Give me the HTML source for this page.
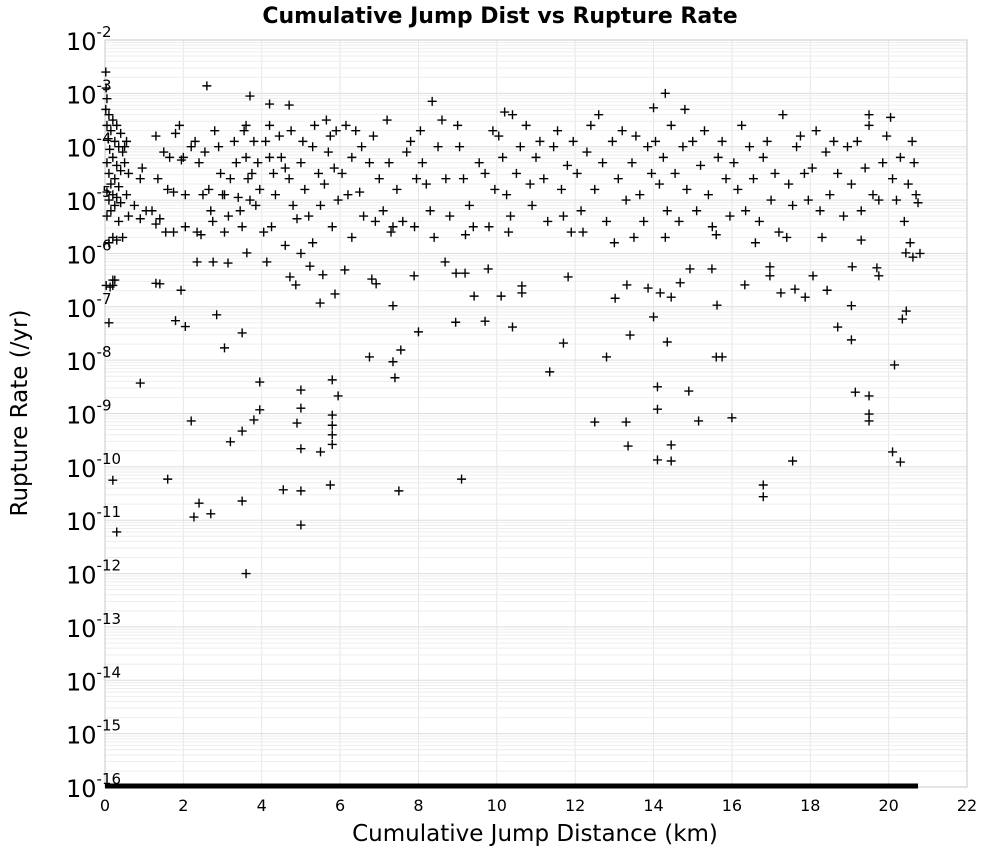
<!DOCTYPE html>
<html><head><meta charset="utf-8"><style>
html,body{margin:0;padding:0;background:#fff;}
svg{display:block;font-family:"DejaVu Sans","Liberation Sans",sans-serif;}
</style></head><body>
<svg id="chart" width="1000" height="850" xmlns="http://www.w3.org/2000/svg">
<text x="500" y="23" text-anchor="middle" font-size="22" font-weight="bold">Cumulative Jump Dist vs Rupture Rate</text>
<g id="grid"></g>
<rect x="105" y="40" width="862" height="747" fill="none" stroke="#c8c8c8"/>
<g id="xticks"></g>
<g id="yticks"></g>
<g id="marks"></g>
<text x="535" y="841" text-anchor="middle" font-size="23">Cumulative Jump Distance (km)</text>
<text transform="translate(27,413) rotate(-90)" text-anchor="middle" font-size="23">Rupture Rate (/yr)</text>
</svg>
<script>
const xTicks = [0,2,4,6,8,10,12,14,16,18,20,22];
const yTickExponents = [-2,-3,-4,-5,-6,-7,-8,-9,-10,-11,-12,-13,-14,-15,-16];
const zeroRateRange = [0, 20.75];
// [cumulative jump distance km, log10 rupture rate]
const ruptures = [
[0.02,-2.6],[0.03,-2.9],[0.05,-3.1],[0.02,-3.3],[0.1,-3.4],[0.2,-3.5],[0.05,-3.6],[0.3,-3.6],[0.15,-3.7],[0.4,-3.75],[0.08,-3.85],[0.25,-3.9],[0.35,-4.0],[0.12,-4.05],[0.45,-4.1],[0.2,-4.2],[0.05,-4.3],[0.3,-4.35],[0.4,-4.45],[0.1,-4.5],[0.25,-4.6],[0.15,-4.7],[0.35,-4.75],[0.05,-4.85],[0.2,-4.9],[0.3,-4.95],[0.1,-5.0],[0.4,-5.05],[0.25,-5.1],[0.15,-5.2],[0.05,-5.3],[0.35,-5.4],[0.2,-5.7],[0.3,-5.75],[0.45,-5.7],[0.1,-5.8],[0.03,-6.6],[0.2,-6.6],[0.25,-6.5],[0.5,-4.0],[0.5,-4.3],[0.55,-3.9],[0.6,-4.5],[0.55,-4.9],[0.6,-5.3],
[0.75,-5.1],[0.9,-5.35],[0.9,-4.6],[0.95,-4.4],[1.05,-5.2],[1.2,-5.2],[1.3,-3.8],[1.35,-4.6],[1.4,-5.35],[1.5,-4.1],[1.6,-4.8],[1.65,-4.2],[1.75,-4.85],[1.8,-3.75],[1.9,-3.6],[1.95,-4.25],[2.0,-4.2],[2.05,-4.9],[2.05,-5.5],[1.75,-5.6],[1.55,-5.6],[1.3,-5.45],
[2.2,-4.0],[2.3,-3.9],[2.4,-4.3],[2.5,-4.9],[2.55,-4.1],[2.65,-4.8],[2.7,-5.2],[2.8,-3.7],[2.9,-4.0],[2.95,-4.5],[3.0,-4.9],[3.05,-4.9],[3.15,-5.3],[3.2,-4.6],[3.3,-3.9],[3.35,-4.3],[3.4,-4.95],[3.45,-5.2],[3.55,-3.7],[3.6,-3.6],[3.6,-4.2],[3.65,-4.6],[3.7,-5.0],[3.75,-4.5],[3.8,-3.9],[3.9,-4.3],[3.95,-4.8],[2.35,-5.6],[2.45,-5.65],[2.75,-5.4],[3.05,-5.6],[3.5,-5.5],[3.85,-5.1],
[4.1,-3.9],[4.2,-3.6],[4.2,-4.2],[4.3,-4.5],[4.35,-4.9],[4.45,-3.8],[4.5,-4.2],[4.6,-4.4],[4.7,-4.6],[4.75,-3.7],[4.8,-5.1],[4.9,-5.35],[5.0,-4.3],[5.05,-3.9],[5.1,-4.8],[5.2,-5.3],[5.3,-4.0],[5.35,-3.6],[5.45,-4.5],[5.5,-5.1],[5.6,-4.7],[5.7,-4.1],[5.75,-3.8],[5.85,-4.4],[5.9,-3.7],[5.95,-5.0],[4.05,-5.6],[4.25,-5.5],[4.6,-5.85],[5.3,-5.8],[5.8,-5.5],[5.0,-6.0],
[6.05,-4.5],[6.15,-3.6],[6.2,-4.9],[6.3,-4.2],[6.4,-3.7],[6.5,-4.85],[6.55,-4.0],[6.6,-5.3],[6.75,-4.3],[6.85,-3.8],[6.9,-5.4],[7.0,-4.6],[7.1,-5.2],[7.2,-3.5],[7.25,-4.3],[7.35,-5.5],[7.45,-4.8],[7.6,-5.4],[7.7,-4.1],[7.8,-3.9],[7.9,-5.5],[7.95,-4.6],[6.3,-5.7],[7.3,-5.6],
[8.05,-3.7],[8.1,-4.3],[8.2,-4.7],[8.3,-5.2],[8.5,-4.0],[8.6,-3.5],[8.7,-4.6],[8.8,-5.3],[9.0,-3.6],[9.05,-4.0],[9.15,-4.6],[9.3,-5.1],[9.4,-5.5],[9.55,-4.3],[9.7,-4.5],[9.8,-5.5],[9.9,-3.7],[9.95,-4.8],[8.4,-5.7],[9.2,-5.65],
[10.05,-3.8],[10.15,-4.2],[10.25,-4.9],[10.35,-5.3],[10.4,-3.4],[10.5,-4.5],[10.6,-4.0],[10.75,-3.6],[10.85,-4.7],[10.9,-5.1],[11.0,-4.2],[11.1,-3.9],[11.2,-4.6],[11.3,-5.4],[11.45,-4.0],[11.55,-3.7],[11.65,-4.8],[11.7,-5.3],[11.8,-4.35],[11.95,-3.9],[10.3,-5.6],[11.9,-5.6],
[12.05,-4.5],[12.15,-5.2],[12.3,-4.1],[12.4,-3.6],[12.5,-4.8],[12.6,-3.4],[12.7,-4.3],[12.8,-5.4],[12.95,-3.9],[13.1,-4.6],[13.2,-3.7],[13.3,-5.0],[13.45,-4.3],[13.55,-3.8],[13.65,-4.9],[13.75,-5.4],[13.85,-4.0],[13.95,-4.5],[12.2,-5.6],[13.0,-5.8],[13.5,-5.7],
[14.05,-3.9],[14.15,-4.7],[14.25,-4.2],[14.35,-5.2],[14.45,-3.6],[14.55,-4.5],[14.65,-5.4],[14.75,-4.0],[14.85,-4.8],[15.0,-3.9],[15.1,-5.2],[15.2,-4.35],[15.3,-3.7],[15.4,-4.9],[15.5,-5.5],[15.65,-4.2],[15.75,-3.9],[15.85,-4.6],[15.95,-5.3],[14.3,-5.7],[15.6,-5.65],
[16.05,-4.3],[16.15,-4.8],[16.25,-3.6],[16.35,-5.2],[16.45,-4.0],[16.55,-4.6],[16.7,-5.4],[16.8,-4.2],[16.9,-3.9],[17.0,-5.0],[17.1,-4.5],[17.2,-5.6],[17.3,-3.4],[17.45,-4.7],[17.55,-5.1],[17.65,-4.0],[17.75,-3.8],[17.85,-4.5],[17.95,-5.0],[16.6,-5.8],[17.4,-5.7],
[18.05,-4.4],[18.15,-3.7],[18.25,-5.2],[18.4,-4.1],[18.5,-4.9],[18.6,-3.9],[18.7,-4.5],[18.85,-5.3],[18.95,-4.0],[19.05,-4.7],[19.2,-3.9],[19.3,-5.2],[19.4,-4.4],[19.5,-3.6],[19.6,-4.9],[19.75,-5.0],[19.85,-4.3],[19.95,-3.8],[20.1,-4.6],[20.2,-5.0],[20.3,-4.2],[20.4,-5.4],[20.5,-4.7],[20.6,-3.9],[20.65,-4.3],[20.7,-4.9],[20.75,-5.05],[18.3,-5.7],[19.3,-5.75],[20.55,-5.8],[20.8,-6.0],
[0.13,-6.63],[0.2,-6.5],[1.3,-6.56],[1.4,-6.57],[1.94,-6.69],[2.35,-6.16],[2.76,-6.16],[3.14,-6.18],[3.62,-5.99],[4.13,-6.16],[4.72,-6.44],[4.87,-6.59],[5.23,-6.24],[5.49,-6.93],[5.56,-6.4],[5.87,-6.76],[6.12,-6.31],[6.81,-6.48],[6.92,-6.57],[7.35,-6.98],[7.89,-6.42],[8.68,-6.16],[8.96,-6.37],[9.19,-6.37],[9.42,-6.8],[9.78,-6.29],[10.11,-6.8],[10.64,-6.61],[10.64,-6.74],[11.82,-6.44],[13.02,-6.84],[13.32,-6.59],[13.86,-6.65],[14.17,-6.74],[14.45,-6.82],[14.68,-6.55],[14.93,-6.29],[15.49,-6.29],[15.62,-6.97],[16.33,-6.59],[16.97,-6.25],[16.97,-6.42],[17.25,-6.74],[17.61,-6.67],[17.87,-6.82],[18.07,-6.42],[18.43,-6.69],[19.07,-6.25],[19.7,-6.27],[19.75,-6.42],[20.44,-5.99],[20.62,-6.07],
[2.6,-2.86],[3.7,-3.05],[4.2,-3.2],[4.7,-3.22],[8.35,-3.15],[14.3,-3.0],[14.0,-3.27],[14.8,-3.3],[10.2,-3.35],[19.5,-3.4],[20.05,-3.45],[5.65,-3.5],
[0.2,-10.25],[0.3,-11.22],[1.6,-10.23],[0.9,-8.43],[2.2,-9.14],[2.4,-10.68],[2.27,-10.94],[2.7,-10.88],[3.2,-9.53],[3.5,-9.33],[3.5,-10.64],[3.6,-12.0],[3.8,-9.12],[3.95,-8.93],[3.95,-8.41],[3.05,-7.77],[3.5,-7.49],[2.85,-7.15],[4.55,-10.43],[5.0,-10.45],[5.0,-11.09],[5.0,-9.66],[5.0,-8.9],[5.0,-8.56],[4.9,-9.18],[5.5,-9.72],[5.75,-10.34],[5.8,-9.58],[5.8,-9.22],[5.8,-9.03],[5.8,-9.4],[5.8,-8.37],[5.95,-8.67],[7.5,-10.45],[7.4,-8.33],[7.35,-8.03],[7.55,-7.81],[6.75,-7.94],[8.0,-7.47],[9.1,-10.23],[8.95,-7.29],[9.7,-7.27],[10.4,-7.38],[11.35,-8.22],[11.7,-7.68],[12.5,-9.16],[12.8,-7.94],[13.3,-9.16],[13.35,-9.61],[14.1,-9.87],[14.45,-9.89],[14.45,-9.59],[14.1,-8.5],[14.1,-8.92],[14.9,-8.58],[15.15,-9.14],[16.0,-9.08],[13.4,-7.53],[14.35,-7.66],[14.0,-7.19],[15.6,-7.94],[15.75,-7.94],[16.8,-10.34],[16.8,-10.56],[17.55,-9.89],[18.7,-7.38],[19.05,-7.62],[19.15,-8.6],[19.5,-8.67],[19.5,-9.01],[19.5,-9.14],[20.1,-9.72],[20.3,-9.91],[20.15,-8.09],[20.35,-7.23],[20.45,-7.08],[19.05,-6.98],[0.1,-7.3],[2.05,-7.37],[1.8,-7.26]
];

const NS = "http://www.w3.org/2000/svg";
const L = 105, R = 967, T = 40, B = 787;
const xMin = 0, xMax = 22, yTop = -2, yBot = -16;
function xs(v){ return L + (v - xMin) / (xMax - xMin) * (R - L); }
function ys(lg){ return T + (yTop - lg) / (yTop - yBot) * (B - T); }
function mk(tag, attrs, parent){ const e = document.createElementNS(NS, tag); for (const k in attrs) e.setAttribute(k, attrs[k]); parent.appendChild(e); return e; }

const grid = document.getElementById('grid');
xTicks.forEach(t => {
  const ln = mk('line', {x1: xs(t), x2: xs(t), y1: T, y2: B, stroke: '#e6e6e6', 'stroke-width': 1}, grid);
  
  
});
yTickExponents.forEach(e => {
  if (e === yBot) return;
  for (let m = 1; m <= 9; m++) {
    const y = ys(e - 1 + Math.log10(m));
    const ln = mk('line', {x1: L, x2: R, y1: y, y2: y, stroke: m === 1 ? '#dddddd' : '#eeeeee', 'stroke-width': 1}, grid);
    
    
  }
});

const xg = document.getElementById('xticks');
xTicks.forEach(t => {
  const tx = mk('text', {x: xs(t), y: B + 24, 'text-anchor': 'middle', 'font-size': 16}, xg);
  tx.textContent = String(t);
  
  
});
const yg = document.getElementById('yticks');
yTickExponents.forEach(e => {
  const tx = mk('text', {x: 66, y: ys(e) + 10, 'font-size': 24}, yg);
  
  
  tx.appendChild(document.createTextNode('10'));
  const sp = mk('tspan', {dy: -13, 'font-size': 15}, tx);
  sp.textContent = String(e);
});

const marks = document.getElementById('marks');
const zl = mk('line', {x1: xs(zeroRateRange[0]), x2: xs(zeroRateRange[1]), y1: ys(yBot) - 1, y2: ys(yBot) - 1, stroke: '#000', 'stroke-width': 5}, marks);


ruptures.forEach(p => {
  const cx = xs(p[0]), cy = ys(p[1]);
  const pt = mk('path', {d: `M${cx-4.5},${cy}H${cx+4.5}M${cx},${cy-4.5}V${cy+4.5}`, stroke: '#000', 'stroke-width': 1.4, fill: 'none'}, marks);
  
  
});
</script>
</body></html>
